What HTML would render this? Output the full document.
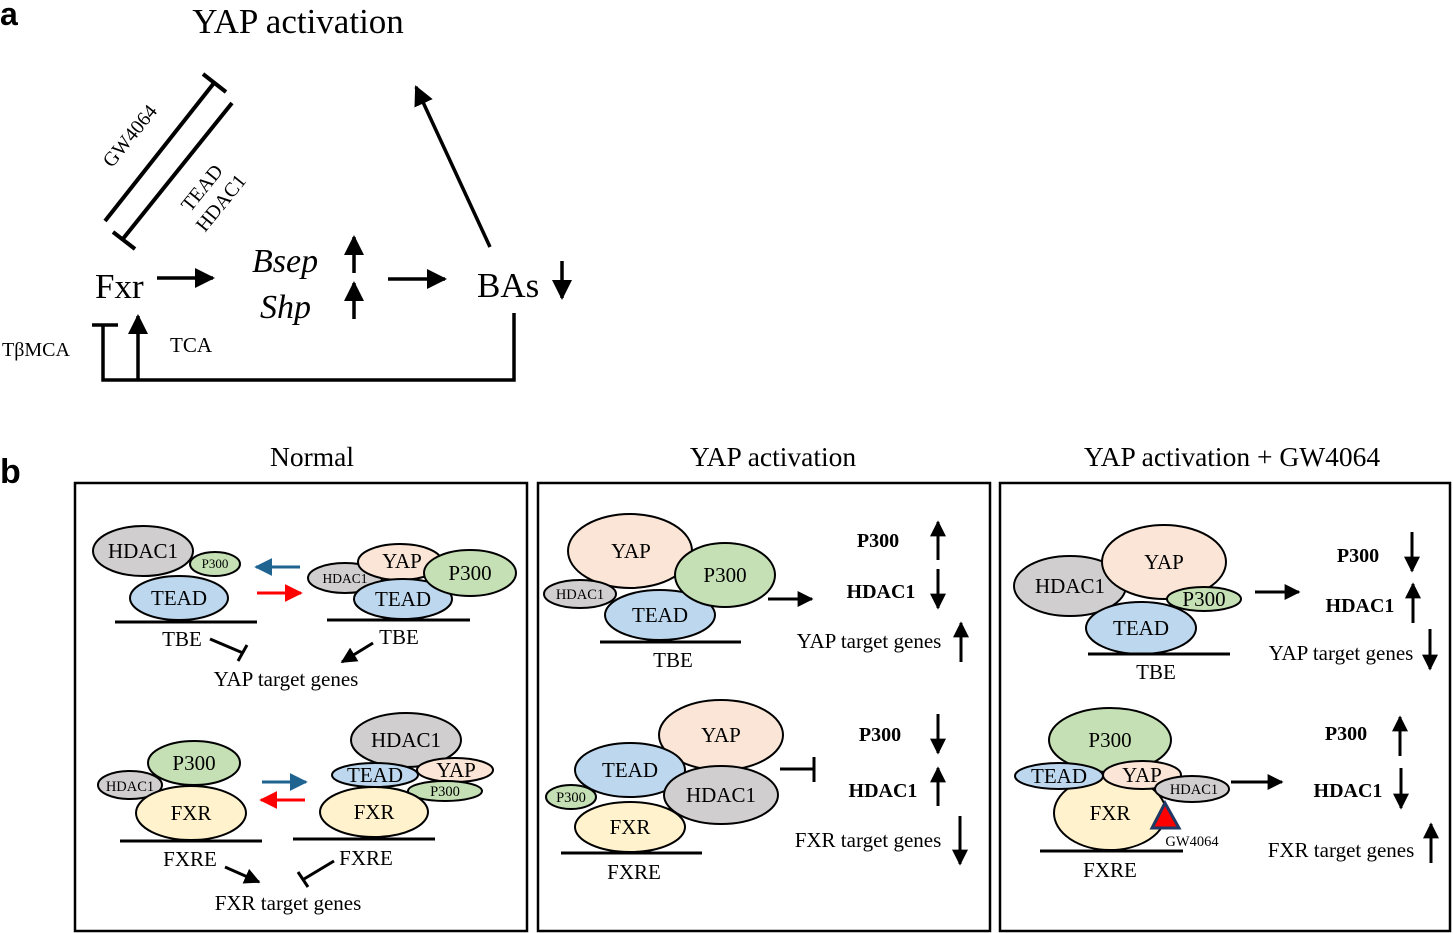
<!DOCTYPE html>
<html><head><meta charset="utf-8"><style>
html,body{margin:0;padding:0;background:#fff;}
svg{display:block;font-family:"Liberation Serif",serif;}
</style></head><body>
<svg width="1453" height="933" viewBox="0 0 1453 933" xmlns="http://www.w3.org/2000/svg">
<defs>
<marker id="A" viewBox="0 0 10 10" refX="9" refY="5" markerUnits="userSpaceOnUse" markerWidth="20" markerHeight="20" orient="auto"><path d="M0,0 L10,5 L0,10z" fill="#000"/></marker>
<marker id="B" viewBox="0 0 10 10" refX="9" refY="5" markerUnits="userSpaceOnUse" markerWidth="16" markerHeight="18" orient="auto"><path d="M0,0 L10,5 L0,10z" fill="#000"/></marker>
<marker id="BL" viewBox="0 0 10 10" refX="9" refY="5" markerUnits="userSpaceOnUse" markerWidth="18" markerHeight="20" orient="auto"><path d="M0,0 L10,5 L0,10z" fill="#1f6391"/></marker>
<marker id="RD" viewBox="0 0 10 10" refX="9" refY="5" markerUnits="userSpaceOnUse" markerWidth="18" markerHeight="20" orient="auto"><path d="M0,0 L10,5 L0,10z" fill="#ff0000"/></marker>
</defs>

<!-- Panel a -->
<text x="0" y="25" font-family="Liberation Sans,sans-serif" font-weight="bold" font-size="32">a</text>
<text x="298" y="33" font-size="35" text-anchor="middle">YAP activation</text>
<g stroke="#000" stroke-width="4" fill="none">
<line x1="105" y1="221" x2="214" y2="83"/>
<line x1="203" y1="74" x2="226" y2="92"/>
<line x1="232" y1="103" x2="122" y2="240"/>
<line x1="113" y1="232" x2="135" y2="249"/>
</g>
<text x="0" y="0" font-size="20" transform="translate(135,140) rotate(-51)" text-anchor="middle">GW4064</text>
<text x="0" y="0" font-size="20" transform="translate(207,192) rotate(-51)" text-anchor="middle">TEAD</text>
<text x="0" y="0" font-size="20" transform="translate(226,207) rotate(-51)" text-anchor="middle">HDAC1</text>
<text x="95" y="298" font-size="35">Fxr</text>
<text x="252" y="272" font-size="34" font-style="italic">Bsep</text>
<text x="260" y="318" font-size="34" font-style="italic">Shp</text>
<text x="477" y="297" font-size="35">BAs</text>
<g stroke="#000" stroke-width="3.5" fill="none">
<line x1="157" y1="278" x2="213" y2="278" marker-end="url(#A)"/>
<line x1="354" y1="273" x2="354" y2="237" marker-end="url(#A)"/>
<line x1="354" y1="319" x2="354" y2="283" marker-end="url(#A)"/>
<line x1="388" y1="279" x2="445" y2="279" marker-end="url(#A)"/>
<line x1="562" y1="261" x2="562" y2="298" marker-end="url(#A)"/>
<line x1="490" y1="247" x2="416" y2="87" marker-end="url(#A)"/>
<polyline points="514,313 514,380 103,380 103,325"/>
<line x1="92" y1="325" x2="118" y2="325"/>
<line x1="138" y1="380" x2="138" y2="316" marker-end="url(#A)"/>
</g>
<text x="2" y="356" font-size="20">TβMCA</text>
<text x="170" y="352" font-size="21">TCA</text>

<!-- Panel b -->
<text x="0" y="483" font-family="Liberation Sans,sans-serif" font-weight="bold" font-size="34">b</text>
<text x="312" y="466" font-size="27.5" text-anchor="middle">Normal</text>
<text x="773" y="466" font-size="27.5" text-anchor="middle">YAP activation</text>
<text x="1232" y="466" font-size="27.5" text-anchor="middle">YAP activation + GW4064</text>
<g fill="none" stroke="#000" stroke-width="2.5">
<rect x="75" y="483" width="452" height="448"/>
<rect x="538" y="483" width="452" height="448"/>
<rect x="1000" y="483" width="450" height="448"/>
</g>

<g stroke="#000" stroke-width="2">
<ellipse cx="143" cy="551" rx="50" ry="25" fill="#d0cece"/>
<ellipse cx="215" cy="564" rx="25" ry="12" fill="#c5e0b4"/>
<ellipse cx="179" cy="598" rx="49" ry="22" fill="#bdd7ee"/>
<ellipse cx="345" cy="578" rx="37" ry="15" fill="#d0cece"/>
<ellipse cx="400" cy="562" rx="42" ry="18" fill="#fbe5d6"/>
<ellipse cx="403" cy="599" rx="49" ry="20" fill="#bdd7ee"/>
<ellipse cx="470" cy="573" rx="46" ry="23" fill="#c5e0b4"/>
<ellipse cx="130" cy="785" rx="32" ry="14" fill="#d0cece"/>
<ellipse cx="194" cy="763" rx="46" ry="22" fill="#c5e0b4"/>
<ellipse cx="191" cy="813" rx="55" ry="27" fill="#fff2cc"/>
<ellipse cx="406" cy="740" rx="55" ry="27" fill="#d0cece"/>
<ellipse cx="455" cy="770" rx="38" ry="12" fill="#fbe5d6"/>
<ellipse cx="375" cy="775" rx="43" ry="12" fill="#bdd7ee"/>
<ellipse cx="445" cy="791" rx="37" ry="10" fill="#c5e0b4"/>
<ellipse cx="374" cy="812" rx="54" ry="25" fill="#fff2cc"/>
<ellipse cx="630" cy="551" rx="62" ry="37" fill="#fbe5d6"/>
<ellipse cx="580" cy="594" rx="36" ry="14" fill="#d0cece"/>
<ellipse cx="660" cy="615" rx="55" ry="25" fill="#bdd7ee"/>
<ellipse cx="725" cy="575" rx="50" ry="32" fill="#c5e0b4"/>
<ellipse cx="721" cy="735" rx="62" ry="35" fill="#fbe5d6"/>
<ellipse cx="630" cy="770" rx="55" ry="27" fill="#bdd7ee"/>
<ellipse cx="721" cy="795" rx="57" ry="29" fill="#d0cece"/>
<ellipse cx="571" cy="797" rx="25" ry="12" fill="#c5e0b4"/>
<ellipse cx="630" cy="827" rx="55" ry="25" fill="#fff2cc"/>
<ellipse cx="1070" cy="586" rx="56" ry="30" fill="#d0cece"/>
<ellipse cx="1164" cy="562" rx="62" ry="37" fill="#fbe5d6"/>
<ellipse cx="1141" cy="628" rx="55" ry="26" fill="#bdd7ee"/>
<ellipse cx="1204" cy="599" rx="37" ry="12" fill="#c5e0b4"/>
<ellipse cx="1110" cy="740" rx="61" ry="32" fill="#c5e0b4"/>
<ellipse cx="1110" cy="813" rx="56" ry="37" fill="#fff2cc"/>
<ellipse cx="1059" cy="776" rx="44" ry="13" fill="#bdd7ee"/>
<ellipse cx="1142" cy="775" rx="39" ry="14" fill="#fbe5d6"/>
<ellipse cx="1192" cy="789" rx="37" ry="13" fill="#d0cece"/>
</g>
<polygon points="1165,803 1152,828 1179,828" fill="#ff0000" stroke="#1f3864" stroke-width="3"/>

<g font-size="21" text-anchor="middle">
<text x="143" y="558">HDAC1</text>
<text x="215" y="568" font-size="13">P300</text>
<text x="179" y="605">TEAD</text>
<text x="345" y="583" font-size="13.5">HDAC1</text>
<text x="402" y="568">YAP</text>
<text x="403" y="606">TEAD</text>
<text x="470" y="580">P300</text>
<text x="130" y="791" font-size="14.5">HDAC1</text>
<text x="194" y="770">P300</text>
<text x="191" y="820">FXR</text>
<text x="406" y="747">HDAC1</text>
<text x="456" y="777">YAP</text>
<text x="375" y="782">TEAD</text>
<text x="445" y="796" font-size="14.5">P300</text>
<text x="374" y="819">FXR</text>
<text x="631" y="558">YAP</text>
<text x="580" y="599" font-size="14.5">HDAC1</text>
<text x="660" y="622">TEAD</text>
<text x="725" y="582">P300</text>
<text x="721" y="742">YAP</text>
<text x="630" y="777">TEAD</text>
<text x="721" y="802">HDAC1</text>
<text x="571" y="802" font-size="14.5">P300</text>
<text x="630" y="834">FXR</text>
<text x="1070" y="593">HDAC1</text>
<text x="1164" y="569">YAP</text>
<text x="1141" y="635">TEAD</text>
<text x="1204" y="606">P300</text>
<text x="1110" y="747">P300</text>
<text x="1110" y="820">FXR</text>
<text x="1059" y="783">TEAD</text>
<text x="1142" y="782">YAP</text>
<text x="1194" y="794" font-size="14.5">HDAC1</text>
</g>

<g stroke="#000" stroke-width="3">
<line x1="115" y1="622" x2="257" y2="622"/>
<line x1="327" y1="620" x2="470" y2="620"/>
<line x1="120" y1="841" x2="262" y2="841"/>
<line x1="293" y1="839" x2="435" y2="839"/>
<line x1="600" y1="642" x2="741" y2="642"/>
<line x1="561" y1="853" x2="702" y2="853"/>
<line x1="1088" y1="654" x2="1230" y2="654"/>
<line x1="1040" y1="851" x2="1183" y2="851"/>
</g>

<g font-size="21" text-anchor="middle">
<text x="182" y="646">TBE</text>
<text x="399" y="644">TBE</text>
<text x="286" y="686">YAP target genes</text>
<text x="190" y="866">FXRE</text>
<text x="366" y="865">FXRE</text>
<text x="288" y="910">FXR target genes</text>
<text x="673" y="667">TBE</text>
<text x="634" y="879">FXRE</text>
<text x="1156" y="679">TBE</text>
<text x="1110" y="877">FXRE</text>
<text x="869" y="648">YAP target genes</text>
<text x="868" y="847">FXR target genes</text>
<text x="1341" y="660">YAP target genes</text>
<text x="1341" y="857">FXR target genes</text>
</g>
<g font-size="20" font-weight="bold" text-anchor="middle">
<text x="878" y="547">P300</text>
<text x="881" y="598">HDAC1</text>
<text x="880" y="741">P300</text>
<text x="883" y="797">HDAC1</text>
<text x="1358" y="562">P300</text>
<text x="1360" y="612">HDAC1</text>
<text x="1346" y="740">P300</text>
<text x="1348" y="797">HDAC1</text>
</g>
<text x="1192" y="846" font-size="14.5" text-anchor="middle">GW4064</text>

<g stroke="#000" stroke-width="3" fill="none">
<line x1="210" y1="639" x2="243" y2="653"/>
<line x1="238" y1="661" x2="247" y2="645"/>
<line x1="373" y1="643" x2="342" y2="662" marker-end="url(#B)"/>
<line x1="225" y1="867" x2="259" y2="882" marker-end="url(#B)"/>
<line x1="334" y1="861" x2="304" y2="879"/>
<line x1="298" y1="872" x2="308" y2="887"/>
<line x1="300" y1="567" x2="256" y2="567" stroke="#1f6391" marker-end="url(#BL)"/>
<line x1="257" y1="593" x2="301" y2="593" stroke="#ff0000" marker-end="url(#RD)"/>
<line x1="262" y1="782" x2="306" y2="782" stroke="#1f6391" marker-end="url(#BL)"/>
<line x1="305" y1="800" x2="261" y2="800" stroke="#ff0000" marker-end="url(#RD)"/>
<line x1="768" y1="599" x2="812" y2="599" marker-end="url(#B)"/>
<line x1="780" y1="769" x2="814" y2="769"/>
<line x1="814" y1="757" x2="814" y2="782"/>
<line x1="1255" y1="592" x2="1299" y2="592" marker-end="url(#B)"/>
<line x1="1231" y1="782" x2="1282" y2="782" marker-end="url(#B)"/>
<line x1="938" y1="560" x2="938" y2="522" marker-end="url(#B)"/>
<line x1="938" y1="569" x2="938" y2="608" marker-end="url(#B)"/>
<line x1="961" y1="662" x2="961" y2="623" marker-end="url(#B)"/>
<line x1="938" y1="714" x2="938" y2="753" marker-end="url(#B)"/>
<line x1="938" y1="806" x2="938" y2="768" marker-end="url(#B)"/>
<line x1="960" y1="816" x2="960" y2="864" marker-end="url(#B)"/>
<line x1="1412" y1="532" x2="1412" y2="571" marker-end="url(#B)"/>
<line x1="1413" y1="623" x2="1413" y2="584" marker-end="url(#B)"/>
<line x1="1430" y1="629" x2="1430" y2="669" marker-end="url(#B)"/>
<line x1="1400" y1="756" x2="1400" y2="717" marker-end="url(#B)"/>
<line x1="1401" y1="768" x2="1401" y2="808" marker-end="url(#B)"/>
<line x1="1431" y1="863" x2="1431" y2="824" marker-end="url(#B)"/>
</g>
</svg>
</body></html>
